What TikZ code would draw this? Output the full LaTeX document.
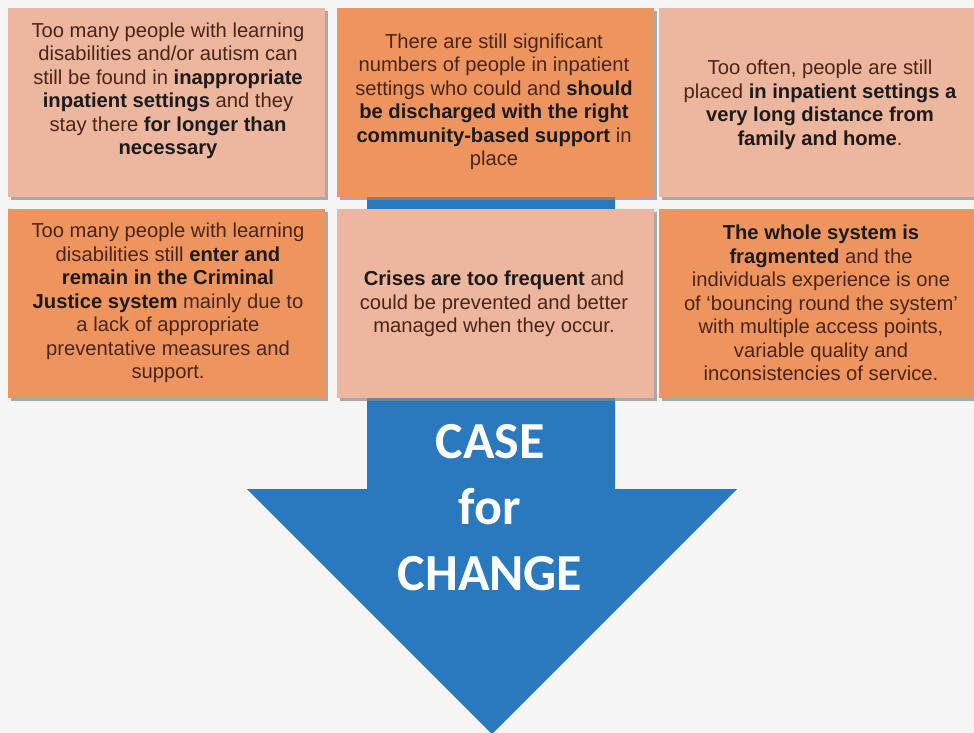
\documentclass[tikz,border=0pt]{standalone}
\usepackage{fontspec}
\setmainfont{Liberation Sans}
\newfontfamily\arrowfont{Carlito}
\definecolor{bgc}{HTML}{F5F5F5}
\definecolor{lightbox}{HTML}{EDB69E}
\definecolor{darkbox}{HTML}{EE955F}
\definecolor{arrowblue}{HTML}{2A79BF}
\definecolor{txtbrown}{HTML}{4A2419}
\definecolor{txtdark}{HTML}{1C1A1A}
\definecolor{shadowc}{HTML}{8A8A8A}
\tikzset{
  x=1pt, y=-1pt,
  boxbase/.style={minimum width=317pt, minimum height=189pt, inner sep=0pt, draw=none},
  lightcard/.style={boxbase, fill=lightbox},
  darkcard/.style={boxbase, fill=darkbox},
  cardshadow/.style={boxbase, fill=shadowc, opacity=0.7},
  cardtext/.style={align=center, inner sep=0pt, text=txtbrown,
    font=\fontsize{20.2}{23.5}\selectfont},
  arrowtext/.style={align=center, inner sep=0pt, text=white,
    font=\arrowfont\bfseries\fontsize{52}{66}\selectfont}
}
\newcommand{\bb}[1]{{\bfseries\color{txtdark}#1}}
\begin{document}
\begin{tikzpicture}
\useasboundingbox (0,0) rectangle (974,733);
\fill[bgc] (0,0) rectangle (974,733);
% arrow
\fill[arrowblue] (367,190) -- (615,190) -- (615,489) -- (737,489) -- (492,734) -- (247,489) -- (367,489) -- cycle;
% shadows
\foreach \cx/\cy in {166.5/102.5, 495/102.5, 817/102.5, 166.5/303, 495/303, 817/303}
  \node[cardshadow] at (\cx+3,\cy+3) {};
% cards
\node[lightcard] (b1) at (166.5,102.5) {};
\node[darkcard]  (b2) at (495,102.5) {};
\node[lightcard] (b3) at (817,102.5) {};
\node[darkcard]  (b4) at (166.5,303) {};
\node[lightcard] (b5) at (495,303) {};
\node[darkcard]  (b6) at (817,303) {};
% texts
\node[cardtext] (t1) at (168,91) {Too many people with learning\\disabilities and/or autism can\\still be found in \bb{inappropriate}\\\bb{inpatient settings} and they\\stay there \bb{for longer than}\\\bb{necessary}};
\node[cardtext] (t2) at (494,102) {There are still significant\\numbers of people in inpatient\\settings who could and \bb{should}\\\bb{be discharged with the right}\\\bb{community-based support} in\\place};
\node[cardtext] (t3) at (820,105) {Too often, people are still\\placed \bb{in inpatient settings a}\\\bb{very long distance from}\\\bb{family and home}.};
\node[cardtext] (t4) at (168,303) {Too many people with learning\\disabilities still \bb{enter and}\\\bb{remain in the Criminal}\\\bb{Justice system} mainly due to\\a lack of appropriate\\preventative measures and\\support.};
\node[cardtext] (t5) at (494,304) {\bb{Crises are too frequent} and\\could be prevented and better\\managed when they occur.};
\node[cardtext] (t6) at (821,303) {\bb{The whole system is}\\\bb{fragmented} and the\\individuals experience is one\\of `bouncing round the system'\\with multiple access points,\\variable quality and\\inconsistencies of service.};
\node[arrowtext] (at) at (490,508) {CASE\\for\\CHANGE};
\end{tikzpicture}
\end{document}
